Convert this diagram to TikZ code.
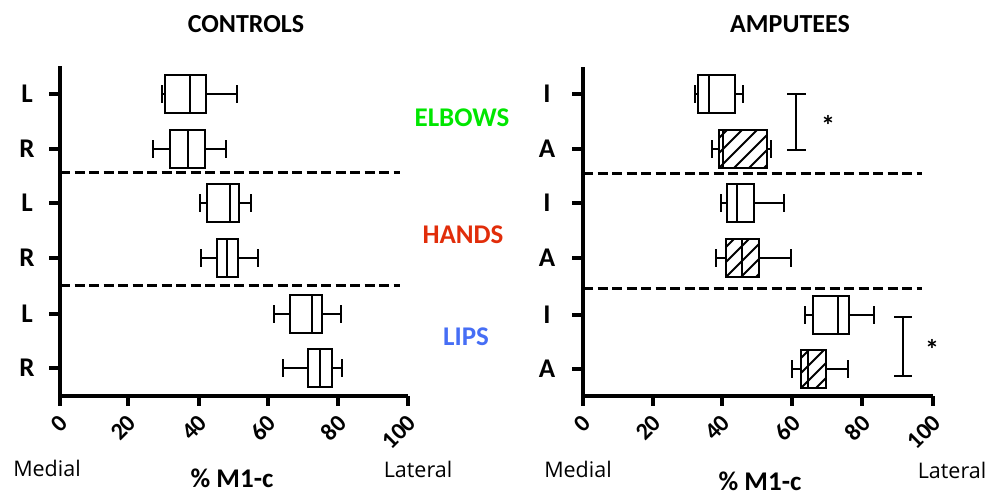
\documentclass[tikz,border=0pt]{standalone}
\usepackage{fontspec}
\setmainfont{Carlito}
\newfontfamily\osans{Open Sans}
\definecolor{elbowc}{RGB}{0,230,0}
\definecolor{handc}{RGB}{225,45,10}
\definecolor{lipc}{RGB}{70,110,245}
\newcommand\bplot[7]{%
  \draw[whisk] (#2,#1) -- (#3,#1) (#5,#1) -- (#6,#1);
  \draw[whisk] (#2,#1-9) -- (#2,#1+9) (#6,#1-9) -- (#6,#1+9);
  \ifnum#7=1
    \begin{scope}
      \clip (#3,#1-19) rectangle (#5,#1+19);
      \foreach \k in {-3,...,6} \draw[hatchline] (#3+\k*15,#1+19) -- ++(38,-38);
    \end{scope}
  \fi
  \draw[boxline] (#3,#1-19) rectangle (#5,#1+19);
  \draw[boxline] (#4,#1-19) -- (#4,#1+19);
}
\begin{document}
\begin{tikzpicture}[x=1pt,y=-1pt,
  axisline/.style={line width=3.2pt},
  whisk/.style={line width=2.8pt},
  boxline/.style={line width=2.8pt},
  hatchline/.style={line width=2pt},
  sepline/.style={line width=3pt,dash pattern=on 10pt off 4.5pt},
  rowlab/.style={font=\bfseries\fontsize{27}{27}\selectfont},
  ticklab/.style={font=\bfseries\fontsize{24}{24}\selectfont,rotate=45,anchor=east,inner sep=0pt},
  title/.style={font=\bfseries\fontsize{26}{26}\selectfont},
  catlab/.style={font=\bfseries\fontsize{27}{27}\selectfont},
  sidelab/.style={font=\osans\fontsize{21.5}{21.5}\selectfont},
  xlab/.style={font=\bfseries\fontsize{27}{27}\selectfont},
  star/.style={font=\bfseries\fontsize{28}{28}\selectfont}]
\useasboundingbox (0,0) rectangle (987,496);
% titles
\node[title] (t1) at (246,24) {CONTROLS};
\node[title] (t2) at (790,24) {AMPUTEES};
% category labels
\node[catlab,text=elbowc] (c1) at (462,118) {ELBOWS};
\node[catlab,text=handc] (c2) at (463,235) {HANDS};
\node[catlab,text=lipc] (c3) at (466,337) {LIPS};
% left axes
\draw[axisline] (60,66) -- (60,396) -- (408,396);
\foreach \xx/\lab in {60/0,128/20,199/40,268/60,338/80,408/100}{
  \draw[axisline] (\xx,396) -- (\xx,406);
  \node[ticklab] at (\xx+4,419) {\lab};
}
\foreach \yy/\lab in {94/L,149/R,203/L,258/R,314/L,368/R}{
  \draw[axisline] (49,\yy) -- (60,\yy);
  \node[rowlab] at (27,\yy) {\lab};
}
\draw[sepline] (60,172) -- (400,172);
\draw[sepline] (60,285) -- (400,285);
\bplot{94}{162}{165}{190}{206}{237}{0}
\bplot{149}{153}{170}{188}{205}{226}{0}
\bplot{203}{200}{207}{230}{239}{251}{0}
\bplot{258}{201}{217}{227}{238}{258}{0}
\bplot{314}{274}{290}{312}{322}{341}{0}
\bplot{368}{283}{308}{320}{332}{342}{0}
\node[sidelab] (m1) at (47,468) {Medial};
\node[sidelab] (l1) at (418,469) {Lateral};
\node[xlab] (x1) at (232,478) {\% M1-c};
% right axes
\draw[axisline] (583,67) -- (583,396) -- (933,396);
\foreach \xx/\lab in {583/0,653/20,722/40,792/60,862/80,933/100}{
  \draw[axisline] (\xx,396) -- (\xx,406);
  \node[ticklab] at (\xx+4,419) {\lab};
}
\foreach \yy/\lab in {94/I,149/A,203/I,258/A,315/I,369/A}{
  \draw[axisline] (572,\yy) -- (583,\yy);
  \node[rowlab] at (547,\yy) {\lab};
}
\draw[sepline] (583,173) -- (922,173);
\draw[sepline] (583,288) -- (922,288);
\bplot{94}{695}{698}{709}{735}{743}{0}
\bplot{149}{712}{719}{723}{767}{771}{1}
\bplot{203}{721}{727}{737}{754}{784}{0}
\bplot{258}{716}{726}{742}{759}{791}{1}
\bplot{315}{805}{813}{838}{849}{874}{0}
\bplot{369}{792}{801}{808}{826}{848}{1}
% significance bars
\coordinate (s1a) at (796,94); \coordinate (s1b) at (796,150);
\draw[whisk] (s1a) -- (s1b) (787,94) -- (806,94) (787,150) -- (806,150);
\node[star] (st1) at (828,125) {*};
\coordinate (s2a) at (903,317); \coordinate (s2b) at (903,376);
\draw[whisk] (s2a) -- (s2b) (894,317) -- (912,317) (894,376) -- (912,376);
\node[star] (st2) at (932,349) {*};
\node[sidelab] (m2) at (578,469) {Medial};
\node[sidelab] (l2) at (952,470) {Lateral};
\node[xlab] (x2) at (760,481) {\% M1-c};
\end{tikzpicture}
\end{document}
